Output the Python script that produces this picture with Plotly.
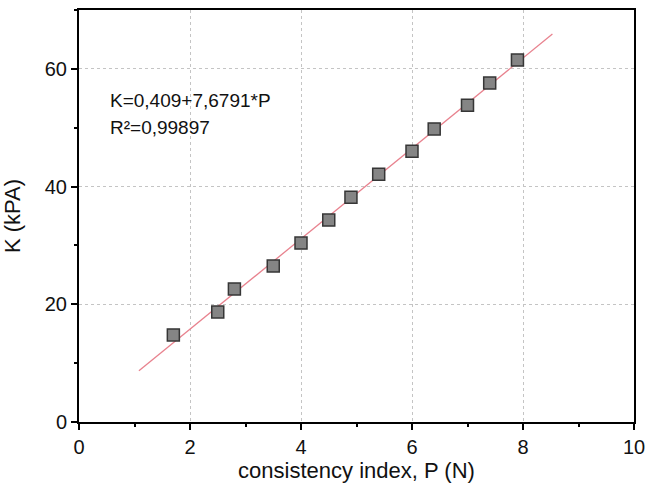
import plotly.graph_objects as go

# Data
P = [1.7, 2.5, 2.8, 3.5, 4.0, 4.5, 4.9, 5.4, 6.0, 6.4, 7.0, 7.4, 7.9]
K = [14.8, 18.7, 22.6, 26.5, 30.4, 34.3, 38.2, 42.1, 46.0, 49.8, 53.8, 57.6, 61.5]

# Linear fit K = a + b*P
fit_a = 0.409
fit_b = 7.6791
fit_P = [1.08, 8.53]
fit_K = [fit_a + fit_b * p for p in fit_P]

eq_lines = ["K=0,409+7,6791*P", "R²=0,99897"]

FONT = "Liberation Sans, Arial, sans-serif"

fig = go.Figure()
fig.add_trace(go.Scatter(
    x=fit_P, y=fit_K, mode="lines",
    line=dict(color="#e8828e", width=1.3),
    showlegend=False, hoverinfo="skip",
))
fig.add_trace(go.Scatter(
    x=P, y=K, mode="markers",
    marker=dict(symbol="square", size=12, color="#858585",
                line=dict(color="#363636", width=1.5)),
    showlegend=False,
))

fig.add_annotation(x=0.52, y=54.6, xref="x", yref="y", text=eq_lines[0],
                   showarrow=False, xanchor="left", yanchor="middle",
                   font=dict(family=FONT, size=19, color="#111111"))
fig.add_annotation(x=0.52, y=50.0, xref="x", yref="y", text=eq_lines[1],
                   showarrow=False, xanchor="left", yanchor="middle",
                   font=dict(family=FONT, size=19, color="#111111"))

axis_common = dict(
    showline=True, linecolor="black", linewidth=2, mirror=True,
    ticks="outside", ticklen=6, tickwidth=2, tickcolor="black",
    showgrid=True, gridcolor="#c4c4c4", gridwidth=1, griddash="dot",
    zeroline=False, automargin=False,
    tickfont=dict(family=FONT, size=20, color="#111111"),
)

fig.update_xaxes(
    range=[0, 10], dtick=2, tick0=0,
    minor=dict(dtick=1, ticks="outside", ticklen=3, tickwidth=1.5,
               tickcolor="black", showgrid=False),
    title=dict(text="consistency index, P (N)",
               font=dict(family=FONT, size=22, color="#111111"), standoff=4),
    **axis_common,
)
fig.update_yaxes(
    range=[0, 70], dtick=20, tick0=0,
    minor=dict(dtick=10, ticks="outside", ticklen=3, tickwidth=1.5,
               tickcolor="black", showgrid=False),
    title=dict(text="K (kPA)",
               font=dict(family=FONT, size=22, color="#111111"), standoff=18),
    **axis_common,
)

fig.update_layout(
    width=646, height=488,
    margin=dict(l=79, r=12, t=10, b=66),
    paper_bgcolor="white", plot_bgcolor="white",
)

fig.write_html("out.html", config={"displayModeBar": False},
               post_script="document.body.style.margin='0';document.body.style.padding='0';")
